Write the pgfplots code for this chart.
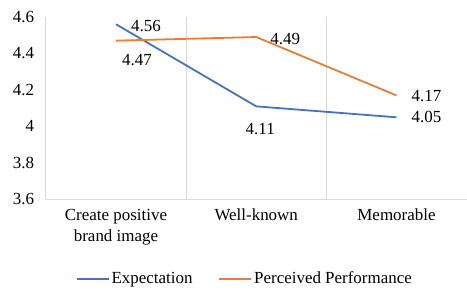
\documentclass[border=0pt]{standalone}
\usepackage{pgfplots}
\pgfplotsset{compat=1.18}
\usepackage{fontspec}
\setmainfont{Liberation Serif}
\definecolor{cblue}{HTML}{4472C4}
\definecolor{corange}{HTML}{ED7D31}
\definecolor{cgrid}{HTML}{D9D9D9}
\begin{document}
\fontsize{17}{19}\selectfont
\begin{tikzpicture}
\begin{axis}[
  scale only axis,
  width=422pt, height=183pt,
  at={(0pt,0pt)}, anchor=south west,
  xmin=-0.5, xmax=2.5,
  ymin=3.6, ymax=4.6,
  /pgf/number format/assume math mode=true,
  ytick={3.6,3.8,4,4.2,4.4,4.6},
  xtick={0,1,2},
  xticklabels={{Create positive\\brand image},{Well-known},{Memorable}},
  xticklabel style={align=center, font=\fontsize{17}{21}\selectfont, yshift=-4pt},
  yticklabel style={font=\fontsize{17}{19}\selectfont, xshift=-6pt, /pgf/number format/fixed},
  minor xtick={-0.5,0.5,1.5},
  xminorgrids,
  minor grid style={cgrid, line width=0.8pt},
  axis y line*=left,
  y axis line style={draw=none},
  axis x line*=bottom,
  x axis line style={cgrid, line width=0.8pt, -},
  major tick length=0pt, minor tick length=0pt,
  tick style={draw=none},
  clip=false,
  legend columns=2,
  legend style={draw=none, at={(0.473,-0.437)}, anchor=center, font=\fontsize{17}{19}\selectfont,
    /tikz/every even column/.append style={column sep=24pt}},
  legend image code/.code={\draw[#1, line width=1.8pt] (0pt,0pt) -- (32pt,0pt);},
]
\addplot[cblue, line width=1.8pt, mark=none] coordinates {(0,4.56) (1,4.11) (2,4.05)};
\addlegendentry{Expectation}
\addplot[corange, line width=1.8pt, mark=none] coordinates {(0,4.47) (1,4.49) (2,4.17)};
\addlegendentry{Perceived Performance}
\node[anchor=west, inner sep=0pt] at ([xshift=15pt,yshift=-2pt]axis cs:0,4.56) {4.56};
\node[anchor=west, inner sep=0pt] at ([xshift=6pt,yshift=-19pt]axis cs:0,4.47) {4.47};
\node[anchor=west, inner sep=0pt] at ([xshift=14pt,yshift=-2pt]axis cs:1,4.49) {4.49};
\node[anchor=center, inner sep=0pt] at ([xshift=4pt,yshift=-23pt]axis cs:1,4.11) {4.11};
\node[anchor=west, inner sep=0pt] at ([xshift=15pt,yshift=-1pt]axis cs:2,4.17) {4.17};
\node[anchor=west, inner sep=0pt] at ([xshift=15pt,yshift=0pt]axis cs:2,4.05) {4.05};
\end{axis}
\path[use as bounding box] (-46pt,-90pt) rectangle (421pt,200pt);
\end{tikzpicture}
\end{document}
